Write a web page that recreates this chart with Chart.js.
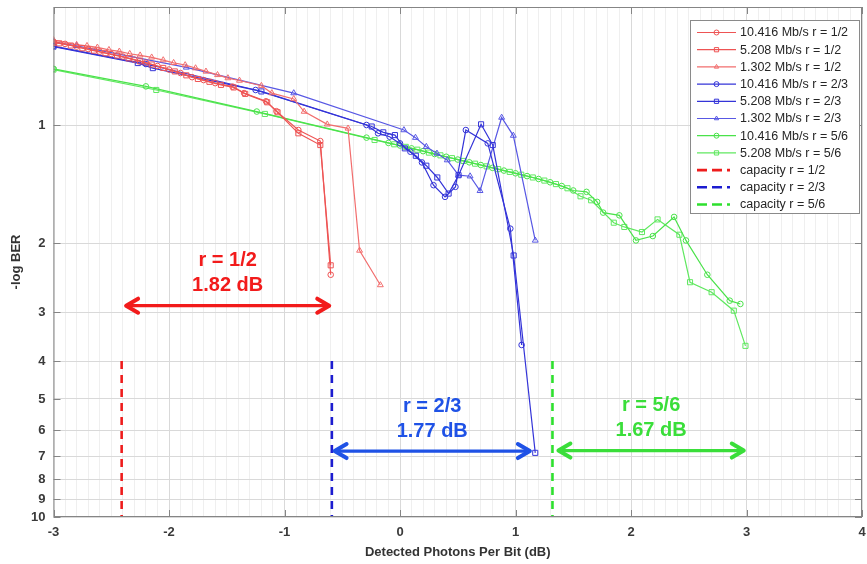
<!DOCTYPE html>
<html>
<head>
<meta charset="utf-8">
<script src="https://cdn.jsdelivr.net/npm/chart.js@4.4.1/dist/chart.umd.min.js"></script>
<style>
  html, body { margin: 0; padding: 0; background: #fff; }
  #wrap { width: 867px; height: 564px; }
</style>
</head>
<body>
<div id="wrap"><canvas id="berChart" width="867" height="564"></canvas></div>
<script>
// ---- data (x: detected photons per bit in dB, y: -log BER) ----

// r = 1/2
const xR12Fast = [-3.0,-2.9,-2.8,-2.7,-2.6,-2.5,-2.4,-2.3,-2.2,-2.1,-2.0,-1.9,-1.8,-1.7,-1.6,-1.45,-1.35,-1.16,-1.07,-0.88,-0.69,-0.60];
const yR12Fast = [0.614,0.621,0.631,0.640,0.650,0.659,0.669,0.681,0.693,0.707,0.722,0.737,0.755,0.768,0.782,0.798,0.829,0.870,0.922,1.030,1.099,2.41];
const xR12Mid = [-3.0,-2.95,-2.85,-2.75,-2.65,-2.55,-2.45,-2.35,-2.25,-2.15,-2.05,-1.95,-1.85,-1.75,-1.65,-1.55,-1.44,-1.34,-1.15,-1.06,-0.88,-0.69,-0.60];
const yR12Mid = [0.617,0.619,0.627,0.637,0.646,0.656,0.665,0.676,0.688,0.701,0.715,0.730,0.747,0.763,0.776,0.790,0.802,0.833,0.875,0.928,1.05,1.125,2.28];
const xR12Slow = [-3.0,-2.8,-2.71,-2.62,-2.52,-2.43,-2.34,-2.25,-2.15,-2.05,-1.96,-1.86,-1.77,-1.68,-1.58,-1.49,-1.39,-1.20,-1.11,-0.92,-0.83,-0.63,-0.45,-0.35,-0.17];
const yR12Slow = [0.607,0.624,0.628,0.634,0.643,0.649,0.658,0.664,0.672,0.683,0.694,0.703,0.716,0.730,0.745,0.759,0.770,0.794,0.829,0.858,0.924,0.996,1.02,2.09,2.56];

// r = 2/3
const xR23Fast = [-3.0,-2.2,-1.25,-0.29,-0.19,-0.09,0.0,0.09,0.19,0.29,0.39,0.48,0.57,0.76,0.955,1.053];
const yR23Fast = [0.629,0.699,0.814,1.0,1.05,1.071,1.114,1.170,1.246,1.424,1.525,1.438,1.030,1.114,1.838,3.64];
const xR23Mid = [-3.0,-2.27,-2.14,-1.2,-0.245,-0.145,-0.044,0.042,0.137,0.228,0.323,0.421,0.507,0.702,0.803,0.984,1.171];
const yR23Mid = [0.631,0.695,0.716,0.821,1.009,1.044,1.061,1.147,1.198,1.270,1.361,1.496,1.343,0.996,1.125,2.152,6.86];
const xR23Slow = [-3.0,-2.8,-1.85,-0.92,0.034,0.134,0.228,0.32,0.409,0.507,0.607,0.693,0.88,0.981,1.171];
const yR23Slow = [0.614,0.628,0.713,0.829,1.030,1.077,1.136,1.182,1.229,1.343,1.351,1.472,0.957,1.064,1.970];

// r = 5/6
const xR56Fast = [-3.0,-2.2,-1.24,-0.29,-0.1,0.0,0.1,0.2,0.3,0.4,0.5,0.6,0.7,0.8,0.9,1.0,1.1,1.2,1.3,1.4,1.5,1.615,1.707,1.759,1.899,2.043,2.189,2.373,2.476,2.661,2.855,2.947];
const yR56Fast = [0.719,0.797,0.924,1.077,1.111,1.128,1.147,1.166,1.186,1.205,1.225,1.245,1.265,1.286,1.307,1.328,1.350,1.373,1.400,1.431,1.469,1.481,1.571,1.673,1.700,1.970,1.920,1.716,1.970,2.41,2.806,2.861];
const xR56Mid = [-3.0,-2.11,-1.17,-0.22,-0.05,0.05,0.15,0.25,0.35,0.45,0.55,0.65,0.75,0.85,0.95,1.05,1.15,1.25,1.35,1.45,1.563,1.655,1.851,1.942,2.095,2.230,2.419,2.511,2.698,2.890,2.991];
const yR56Mid = [0.722,0.814,0.937,1.092,1.120,1.137,1.156,1.176,1.195,1.215,1.235,1.255,1.275,1.296,1.317,1.339,1.361,1.386,1.415,1.45,1.520,1.556,1.775,1.820,1.875,1.741,1.905,2.518,2.670,2.976,3.659];

// capacity limits (dashed verticals)
const capacityX = [-2.41, -0.59, 1.32];
const capacitySpan = [4, 10];

// gap annotations
const gapRates = ["r = 1/2", "r = 2/3", "r = 5/6"];
const gapDb = ["1.82 dB", "1.77 dB", "1.67 dB"];
const gapFrom = [-2.38, -0.575, 1.363];
const gapTo = [-0.604, 1.133, 2.985];
const gapLevel = [2.89, 6.79, 6.77];

const xTicks = [-3, -2, -1, 0, 1, 2, 3, 4];
const yTicks = [1, 2, 3, 4, 5, 6, 7, 8, 9, 10];

// ---- helpers ----
function pts(xs, ys) {
    return xs.map((x, i) => ({ x: x, y: ys[i] }));
}

function series(label, xs, ys, color, style) {
    return {
        label: label,
        data: pts(xs, ys),
        borderColor: color,
        backgroundColor: "transparent",
        borderWidth: 1.2,
        pointStyle: style,
        pointRadius: style === "rect" ? 3.6 : (style === "triangle" ? 3.4 : 2.8),
        pointBorderWidth: 1,
        pointBorderColor: color,
        pointBackgroundColor: "transparent",
        tension: 0
    };
}

function capacity(label, x, color) {
    return {
        label: label,
        data: [{ x: x, y: capacitySpan[0] }, { x: x, y: capacitySpan[1] }],
        borderColor: color,
        borderWidth: 2.6,
        borderDash: [8, 6],
        pointRadius: 0,
        isCapacity: true
    };
}

const red = "rgb(238,84,84)", redSlow = "rgb(242,110,110)";
const blue = "rgb(52,52,216)", blueSlow = "rgb(88,88,228)";
const green = "rgb(74,226,74)", greenMid = "rgb(96,232,96)";

const datasets = [
    series("10.416 Mb/s r = 1/2", xR12Fast, yR12Fast, red, "circle"),
    series("5.208 Mb/s r = 1/2", xR12Mid, yR12Mid, red, "rect"),
    series("1.302 Mb/s r = 1/2", xR12Slow, yR12Slow, redSlow, "triangle"),
    series("10.416 Mb/s r = 2/3", xR23Fast, yR23Fast, blue, "circle"),
    series("5.208 Mb/s r = 2/3", xR23Mid, yR23Mid, blue, "rect"),
    series("1.302 Mb/s r = 2/3", xR23Slow, yR23Slow, blueSlow, "triangle"),
    series("10.416 Mb/s r = 5/6", xR56Fast, yR56Fast, green, "circle"),
    series("5.208 Mb/s r = 5/6", xR56Mid, yR56Mid, greenMid, "rect"),
    capacity("capacity r = 1/2", capacityX[0], "#ee1c1c"),
    capacity("capacity r = 2/3", capacityX[1], "#1c1cd0"),
    capacity("capacity r = 5/6", capacityX[2], "#2ee02e")
];

// minor grid every 0.1 dB on x
const xGrid = [];
for (let i = -30; i <= 40; i++) xGrid.push(i / 10);

const tickFont = { family: "'Liberation Sans', Arial, sans-serif", size: 13, weight: "bold" };

// box, inner tick marks, arrows and legend drawn over the plot
const overlay = {
    id: "overlay",
    afterDraw(chart) {
        const ctx = chart.ctx;
        const a = chart.chartArea;
        const xs = chart.scales.x, ys = chart.scales.y;

        // axes box + ticks
        ctx.save();
        ctx.strokeStyle = "#858585";
        ctx.lineWidth = 1;
        ctx.strokeRect(a.left + 0.5, a.top + 0.5, a.right - a.left - 1, a.bottom - a.top - 1);
        ctx.beginPath();
        xTicks.forEach(v => {
            const px = Math.round(xs.getPixelForValue(v)) + 0.5;
            ctx.moveTo(px, a.bottom); ctx.lineTo(px, a.bottom - 7);
            ctx.moveTo(px, a.top); ctx.lineTo(px, a.top + 7);
        });
        yTicks.forEach(v => {
            const py = Math.round(ys.getPixelForValue(v)) + 0.5;
            ctx.moveTo(a.left, py); ctx.lineTo(a.left + 7, py);
            ctx.moveTo(a.right, py); ctx.lineTo(a.right - 7, py);
        });
        ctx.stroke();
        ctx.restore();

        // gap arrows with labels
        const gapColors = ["#f21b1b", "#1f52e6", "#3ade3a"];
        gapRates.forEach((txt, i) => {
            const x1 = xs.getPixelForValue(gapFrom[i]);
            const x2 = xs.getPixelForValue(gapTo[i]);
            const y = ys.getPixelForValue(gapLevel[i]);
            ctx.save();
            ctx.strokeStyle = gapColors[i];
            ctx.lineWidth = 3.4;
            ctx.lineCap = "round";
            ctx.lineJoin = "round";
            ctx.beginPath();
            ctx.moveTo(x1 + 2, y); ctx.lineTo(x2 - 2, y);
            ctx.stroke();
            ctx.lineWidth = 4;
            ctx.beginPath();
            ctx.moveTo(x1 + 13, y - 7); ctx.lineTo(x1 + 1, y); ctx.lineTo(x1 + 13, y + 7);
            ctx.moveTo(x2 - 13, y - 7); ctx.lineTo(x2 - 1, y); ctx.lineTo(x2 - 13, y + 7);
            ctx.stroke();
            ctx.fillStyle = gapColors[i];
            ctx.font = "bold 20px 'Liberation Sans', Arial, sans-serif";
            ctx.textAlign = "center";
            ctx.textBaseline = "middle";
            const cx = (x1 + x2) / 2;
            ctx.fillText(txt, cx, y - 45);
            ctx.fillText(gapDb[i], cx, y - 20);
            ctx.restore();
        });

        // legend box
        const lx = 690, ly = 20, lw = 169, lh = 193;
        ctx.save();
        ctx.fillStyle = "#fff";
        ctx.fillRect(lx, ly, lw, lh);
        ctx.strokeStyle = "#8a8a8a";
        ctx.lineWidth = 1;
        ctx.strokeRect(lx + 0.5, ly + 0.5, lw, lh);
        ctx.font = "12.5px 'Liberation Sans', Arial, sans-serif";
        ctx.textBaseline = "middle";
        ctx.textAlign = "left";
        chart.data.datasets.forEach((ds, i) => {
            const y = 32.5 + i * 17.2;
            ctx.strokeStyle = ds.borderColor;
            if (ds.isCapacity) {
                ctx.lineWidth = 2.6;
                ctx.setLineDash([10, 5]);
                ctx.beginPath(); ctx.moveTo(697, y); ctx.lineTo(730, y); ctx.stroke();
                ctx.setLineDash([]);
            } else {
                ctx.lineWidth = 1.2;
                ctx.beginPath(); ctx.moveTo(697, y); ctx.lineTo(736, y); ctx.stroke();
                ctx.fillStyle = "transparent";
                ctx.lineWidth = 1;
                Chart.helpers.drawPoint(ctx, {
                    pointStyle: ds.pointStyle, rotation: 0,
                    radius: ds.pointStyle === "rect" ? 3 : 2.5, borderWidth: 1
                }, 716.5, y);
            }
            ctx.fillStyle = "#262626";
            ctx.fillText(ds.label, 740, y + 0.5);
        });
        ctx.restore();
    }
};

new Chart(document.getElementById("berChart").getContext("2d"), {
    type: "line",
    data: { datasets: datasets },
    options: {
        responsive: false,
        animation: false,
        parsing: true,
        layout: { padding: { top: 7, right: 1.5, left: 0, bottom: 0 } },
        plugins: {
            legend: { display: false },
            tooltip: { enabled: false }
        },
        scales: {
            x: {
                type: "linear",
                min: -3,
                max: 4,
                afterBuildTicks: (s) => { s.ticks = xGrid.map(v => ({ value: v })); },
                afterFit: (s) => { s.height = 47; s.paddingLeft = 0; s.paddingRight = 0; },
                ticks: {
                    autoSkip: false,
                    maxRotation: 0,
                    padding: 8,
                    color: "#3a3a3a",
                    font: tickFont,
                    callback: (v) => xTicks.includes(Math.round(v * 10) / 10) ? String(Math.round(v)) : ""
                },
                grid: {
                    drawTicks: false,
                    color: (c) => xTicks.includes(Math.round(c.tick.value * 10) / 10) ? "#d9d9d9" : "#efefef",
                    lineWidth: 1
                },
                border: { display: false },
                title: {
                    display: true,
                    text: "Detected Photons Per Bit (dB)",
                    color: "#333",
                    font: tickFont,
                    padding: { top: 0, bottom: 4 }
                }
            },
            y: {
                type: "logarithmic",
                reverse: true,
                min: 0.5,
                max: 10,
                afterBuildTicks: (s) => { s.ticks = yTicks.map(v => ({ value: v })); },
                afterFit: (s) => { s.width = 53.5; s.paddingTop = 0; s.paddingBottom = 0; },
                ticks: {
                    autoSkip: false,
                    padding: 8,
                    color: "#3a3a3a",
                    font: tickFont,
                    callback: (v) => String(v)
                },
                grid: { drawTicks: false, color: "#d9d9d9", lineWidth: 1 },
                border: { display: false },
                title: {
                    display: true,
                    text: "-log BER",
                    color: "#333",
                    font: tickFont,
                    padding: { top: 9, bottom: 0 }
                }
            }
        }
    },
    plugins: [overlay]
});
</script>
</body>
</html>
